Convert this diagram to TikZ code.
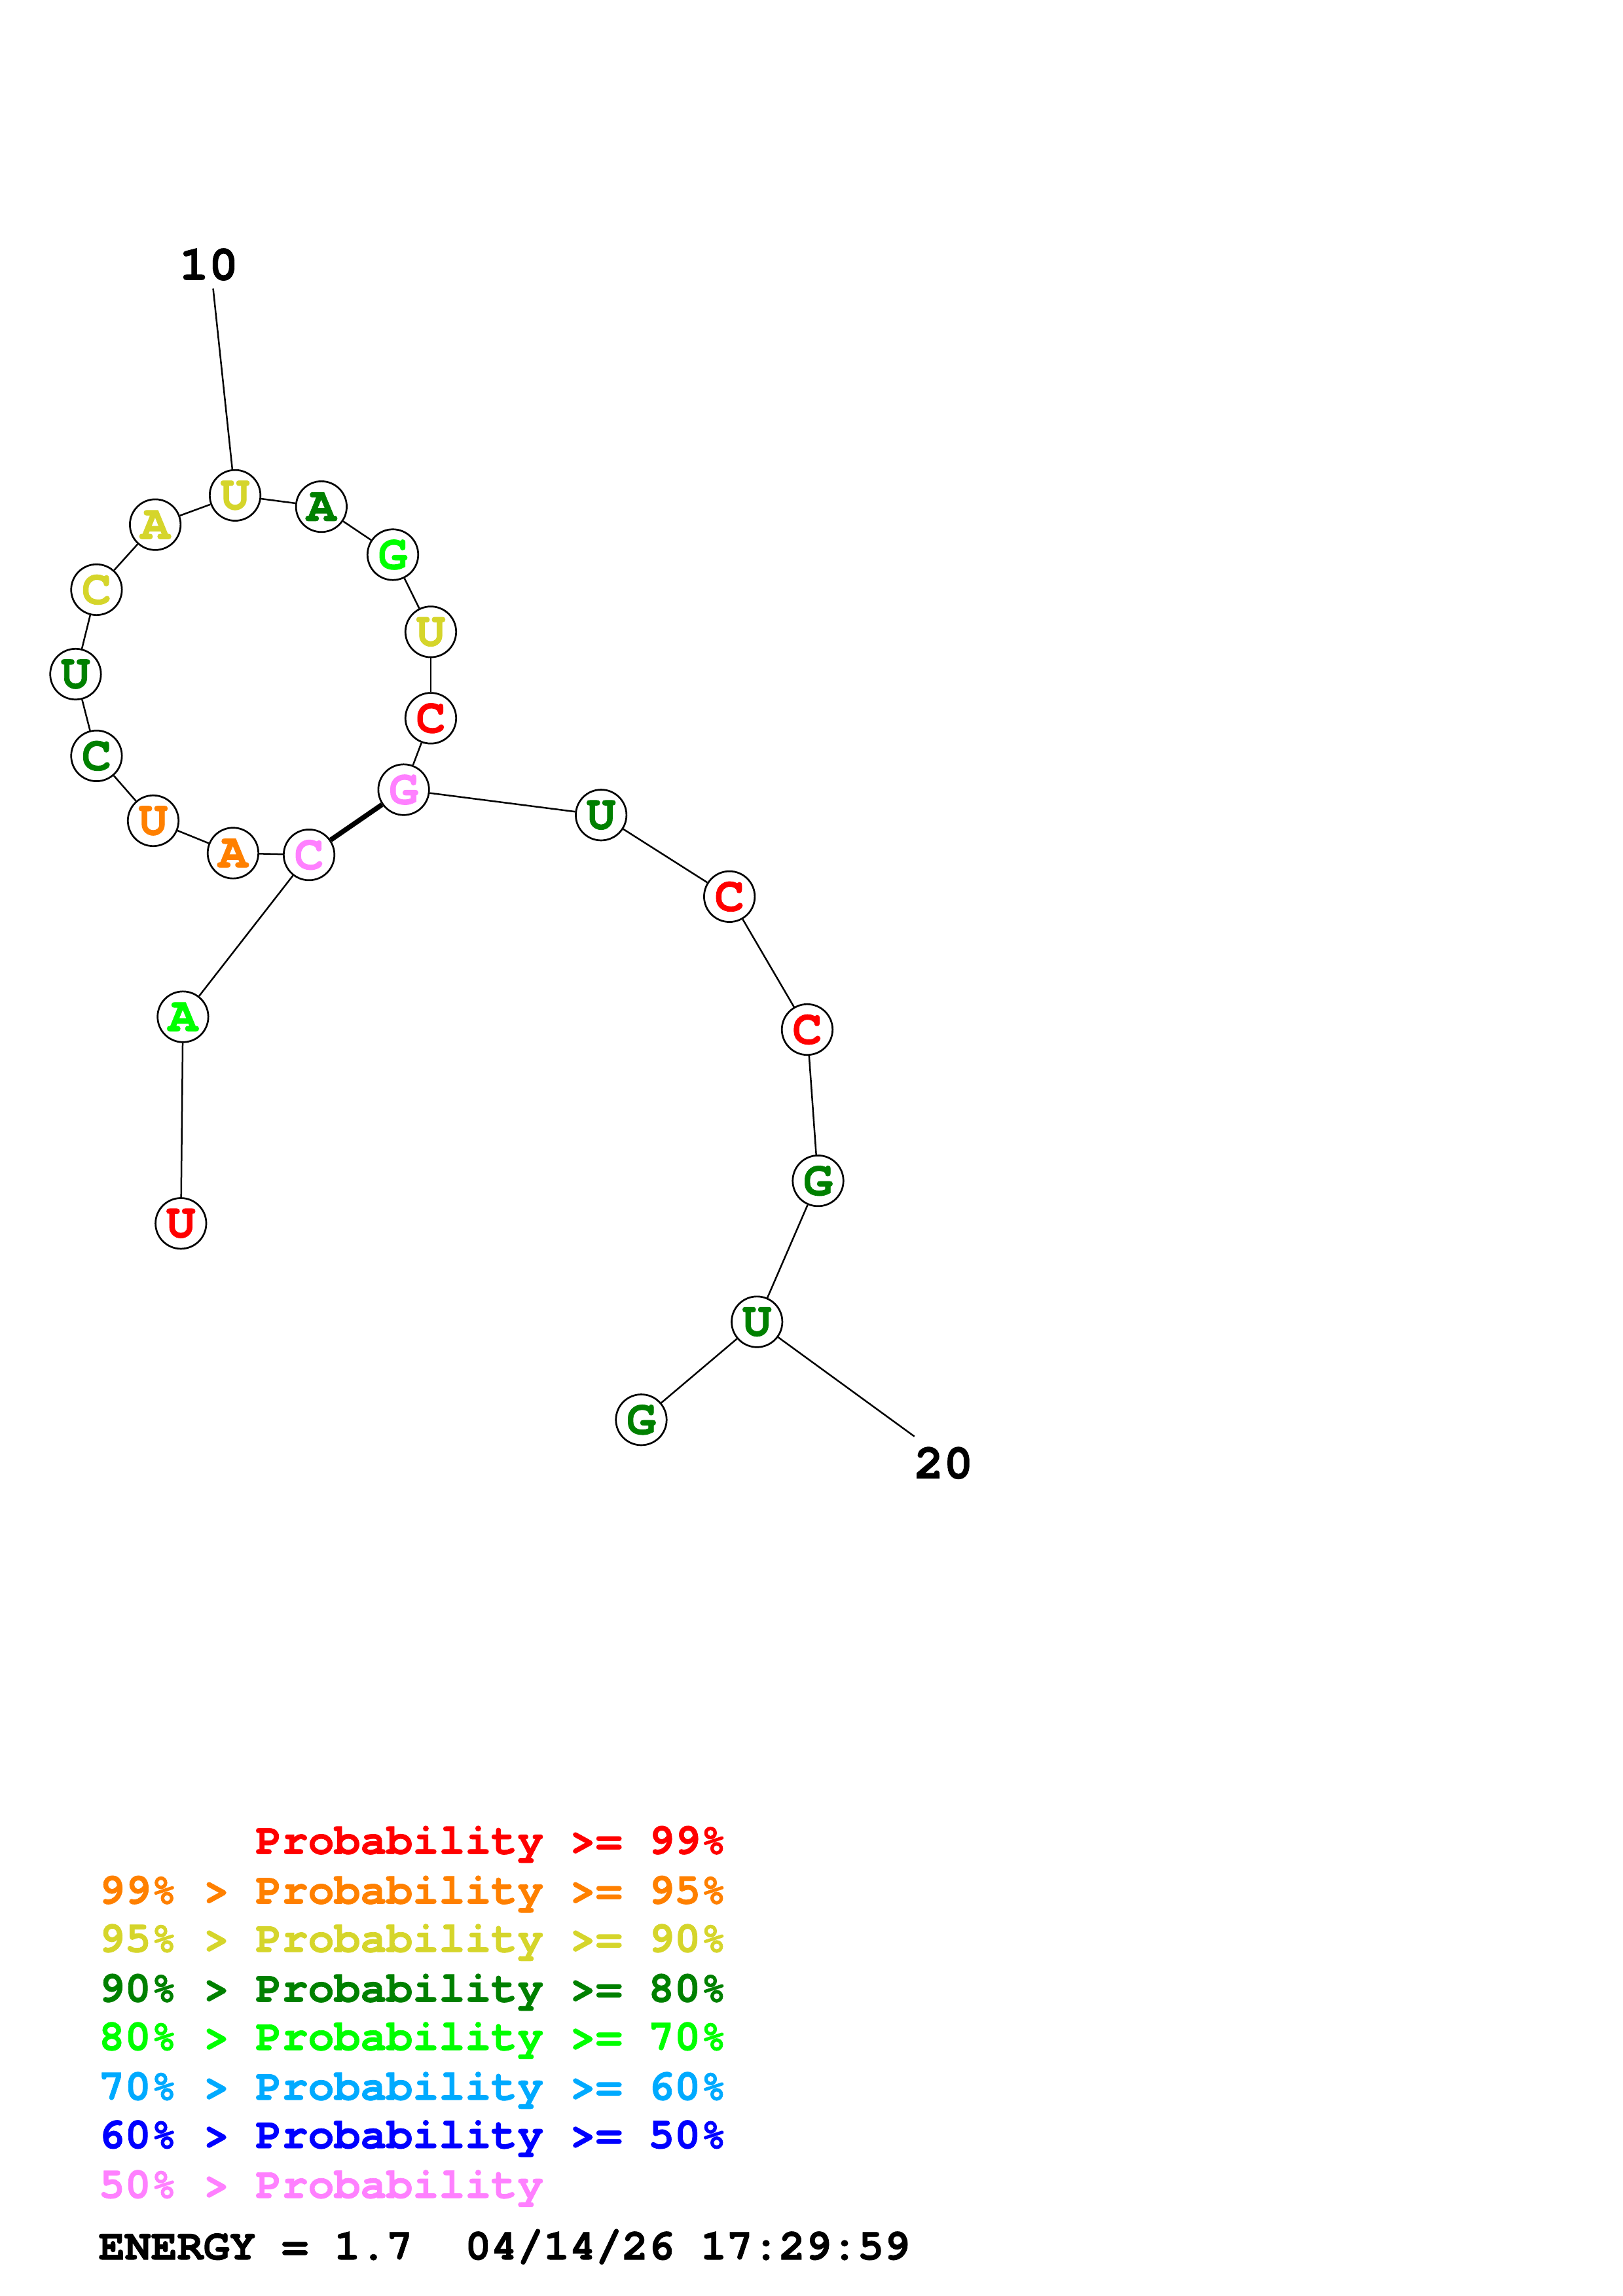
\documentclass[tikz,border=0pt]{standalone}
\usepackage{fontspec}
\newfontfamily\cour{texgyrecursor-bold.otf}[FakeBold=1.2]
\definecolor{pr}{RGB}{255,0,0}
\definecolor{po}{RGB}{255,128,0}
\definecolor{py}{RGB}{213,213,43}
\definecolor{pdg}{RGB}{0,128,0}
\definecolor{pg}{RGB}{0,255,0}
\definecolor{pc}{RGB}{0,170,255}
\definecolor{pb}{RGB}{0,0,255}
\definecolor{pp}{RGB}{255,128,255}
\begin{document}
\frenchspacing
\begin{tikzpicture}[x=0.53727pt,y=-0.53727pt,
  nt/.style={circle,draw=black,line width=0.65pt,fill=white,inner sep=0pt,minimum size=18.6pt,
    font=\cour\fontsize{18}{18}\selectfont},
  bb/.style={line width=0.6pt},
  pair/.style={line width=1.8pt},
  lab/.style={font=\cour\fontsize{18}{18}\selectfont,inner sep=0pt},
  leg/.style={font=\cour\fontsize{16}{16}\selectfont,anchor=base west,inner sep=0pt}]
\useasboundingbox (0,0) rectangle (1108,1568);
% nucleotides
\node[nt,text=pr]  (n1)  at (123.5,835.5) {U};
\node[nt,text=pg]  (n2)  at (124.9,694.4) {A};
\node[nt,text=pp]  (n3)  at (211.0,583.8) {C};
\node[nt,text=po]  (n4)  at (159.1,582.6) {A};
\node[nt,text=po]  (n5)  at (104.6,560.5) {U};
\node[nt,text=pdg] (n6)  at (65.9,516.2) {C};
\node[nt,text=pdg] (n7)  at (51.6,460.4) {U};
\node[nt,text=py]  (n8)  at (65.9,402.7) {C};
\node[nt,text=py]  (n9)  at (106.0,358.3) {A};
\node[nt,text=py]  (n10) at (160.5,338.3) {U};
\node[nt,text=pdg] (n11) at (219.4,346.0) {A};
\node[nt,text=pg]  (n12) at (268.2,378.8) {G};
\node[nt,text=py]  (n13) at (294.1,431.5) {U};
\node[nt,text=pr]  (n14) at (294.1,490.5) {C};
\node[nt,text=pp]  (n15) at (275.6,539.3) {G};
\node[nt,text=pdg] (n16) at (410.4,556.6) {U};
\node[nt,text=pr]  (n17) at (498.0,612.3) {C};
\node[nt,text=pr]  (n18) at (551.1,703.1) {C};
\node[nt,text=pdg] (n19) at (558.5,806.4) {G};
\node[nt,text=pdg] (n20) at (516.8,902.7) {U};
\node[nt,text=pdg] (n21) at (437.8,969.6) {G};
% backbone
\foreach \a/\b in {1/2,2/3,3/4,4/5,5/6,6/7,7/8,8/9,9/10,10/11,11/12,12/13,13/14,14/15,15/16,16/17,17/18,18/19,19/20,20/21}
  \draw[bb] (n\a) -- (n\b);
% pair
\draw[pair] (n3) -- (n15);
% number labels
\node[lab] (l10) at (142.6,180.6) {10};
\coordinate (t10) at (145.5,197);
\draw[bb] (n10) -- (t10);
\node[lab] (l20) at (644.3,999.1) {20};
\coordinate (t20) at (624.3,981);
\draw[bb] (n20) -- (t20);
% legend
\node[leg,text=pr] (g1) at (67,1266) {\hphantom{99\% > }Probability >= 99\%};
\node[leg,text=po] (g2) at (67,1300) {99\% > Probability >= 95\%};
\node[leg,text=py] (g3) at (67,1333) {95\% > Probability >= 90\%};
\node[leg,text=pdg] (g4) at (67,1367) {90\% > Probability >= 80\%};
\node[leg,text=pg] (g5) at (67,1400) {80\% > Probability >= 70\%};
\node[leg,text=pc] (g6) at (67,1434) {70\% > Probability >= 60\%};
\node[leg,text=pb] (g7) at (67,1467) {60\% > Probability >= 50\%};
\node[leg,text=pp] (g8) at (67,1501) {50\% > Probability};
\node[leg,text=black] (g9) at (67,1543) {ENERGY = 1.7~~04/14/26 17:29:59};
\end{tikzpicture}
\end{document}
